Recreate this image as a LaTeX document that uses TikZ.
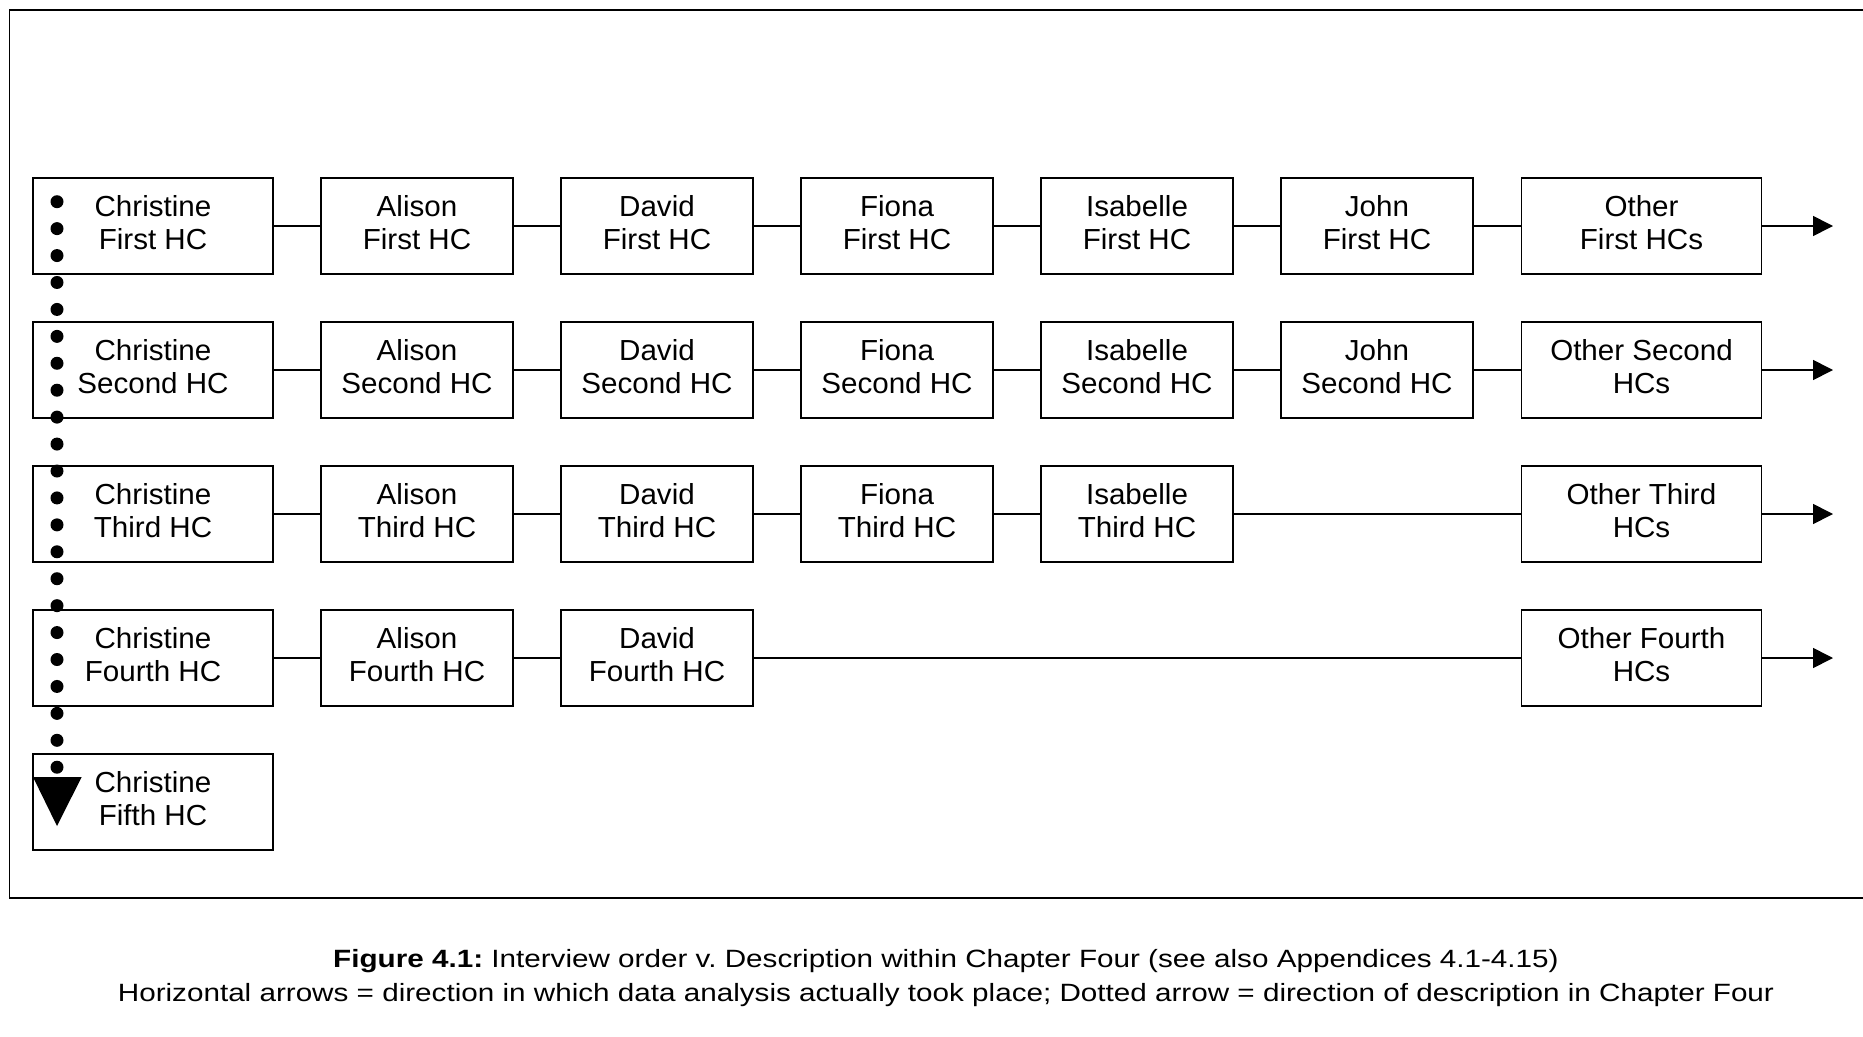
\documentclass[tikz,border=0pt]{standalone}
\usepackage{fontspec}
\setmainfont{Liberation Sans}
\newfontfamily\boxfont[FakeStretch=1.02]{Liberation Sans}
\newfontfamily\capfont[FakeStretch=1.186]{Liberation Sans}
\usetikzlibrary{arrows.meta}
\frenchspacing
\begin{document}
\begin{tikzpicture}[x=1pt,y=-1pt,
  box/.style={draw, line width=1.6pt, minimum height=96pt, align=center, inner sep=0pt,
    font=\boxfont\fontsize{29}{33}\selectfont,
    execute at end node={\rule[-8pt]{0pt}{0pt}}},
  wbox/.style={box, minimum width=240pt},
  nbox/.style={box, minimum width=192pt},
  link/.style={line width=1.6pt},
  flow/.style={line width=1.6pt, -{Triangle[length=20pt,width=20pt]}},
  frame/.style={line width=1.6pt}]
\useasboundingbox (0,0) rectangle (1863,1036);
\draw[frame] (1863,10) -- (9.5,10) -- (9.5,898) -- (1863,898);

% columns
\def\xC{153}\def\xA{417}\def\xD{657}\def\xF{897}\def\xI{1137}\def\xJ{1377}\def\xO{1641.5}
% rows
\def\rA{226}\def\rB{370}\def\rC{514}\def\rD{658}\def\rE{802}

\node[wbox] (c1) at (\xC,\rA) {Christine\\First HC};
\node[nbox] (a1) at (\xA,\rA) {Alison\\First HC};
\node[nbox] (d1) at (\xD,\rA) {David\\First HC};
\node[nbox] (f1) at (\xF,\rA) {Fiona\\First HC};
\node[nbox] (i1) at (\xI,\rA) {Isabelle\\First HC};
\node[nbox] (j1) at (\xJ,\rA) {John\\First HC};
\node[wbox] (o1) at (\xO,\rA) {Other\\First HCs};

\node[wbox] (c2) at (\xC,\rB) {Christine\\Second HC};
\node[nbox] (a2) at (\xA,\rB) {Alison\\Second HC};
\node[nbox] (d2) at (\xD,\rB) {David\\Second HC};
\node[nbox] (f2) at (\xF,\rB) {Fiona\\Second HC};
\node[nbox] (i2) at (\xI,\rB) {Isabelle\\Second HC};
\node[nbox] (j2) at (\xJ,\rB) {John\\Second HC};
\node[wbox] (o2) at (\xO,\rB) {Other Second\\HCs};

\node[wbox] (c3) at (\xC,\rC) {Christine\\Third HC};
\node[nbox] (a3) at (\xA,\rC) {Alison\\Third HC};
\node[nbox] (d3) at (\xD,\rC) {David\\Third HC};
\node[nbox] (f3) at (\xF,\rC) {Fiona\\Third HC};
\node[nbox] (i3) at (\xI,\rC) {Isabelle\\Third HC};
\node[wbox] (o3) at (\xO,\rC) {Other Third\\HCs};

\node[wbox] (c4) at (\xC,\rD) {Christine\\Fourth HC};
\node[nbox] (a4) at (\xA,\rD) {Alison\\Fourth HC};
\node[nbox] (d4) at (\xD,\rD) {David\\Fourth HC};
\node[wbox] (o4) at (\xO,\rD) {Other Fourth\\HCs};

\node[wbox] (c5) at (\xC,\rE) {Christine\\Fifth HC};

% horizontal links
\draw[link] (c1) -- (a1); \draw[link] (a1) -- (d1); \draw[link] (d1) -- (f1);
\draw[link] (f1) -- (i1); \draw[link] (i1) -- (j1); \draw[link] (j1) -- (o1);
\draw[link] (c2) -- (a2); \draw[link] (a2) -- (d2); \draw[link] (d2) -- (f2);
\draw[link] (f2) -- (i2); \draw[link] (i2) -- (j2); \draw[link] (j2) -- (o2);
\draw[link] (c3) -- (a3); \draw[link] (a3) -- (d3); \draw[link] (d3) -- (f3);
\draw[link] (f3) -- (i3); \draw[link] (i3) -- (o3);
\draw[link] (c4) -- (a4); \draw[link] (a4) -- (d4); \draw[link] (d4) -- (o4);

% outgoing arrows
\coordinate (e1) at (1833,\rA); \coordinate (e2) at (1833,\rB);
\coordinate (e3) at (1833,\rC); \coordinate (e4) at (1833,\rD);
\draw[flow] (o1) -- (e1); \draw[flow] (o2) -- (e2);
\draw[flow] (o3) -- (e3); \draw[flow] (o4) -- (e4);

% dotted arrow
\coordinate (dtop) at (57,201.7);
\coordinate (dbot) at (57,768);
\draw[line width=13pt, line cap=round, dash pattern=on 0pt off 26.93pt] (dtop) -- (dbot);
\coordinate (tl) at (33,777); \coordinate (tr) at (81.7,777); \coordinate (tt) at (57,826);
\fill (tl) -- (tr) -- (tt) -- cycle;

% caption
\node[align=center, font=\capfont\fontsize{25}{34}\selectfont] (cap) at (946,978.5)
 {\textbf{Figure 4.1:} Interview order v. Description within Chapter Four (see also Appendices 4.1-4.15)\\
  Horizontal arrows = direction in which data analysis actually took place; Dotted arrow = direction of description in Chapter Four};
\end{tikzpicture}
\end{document}
